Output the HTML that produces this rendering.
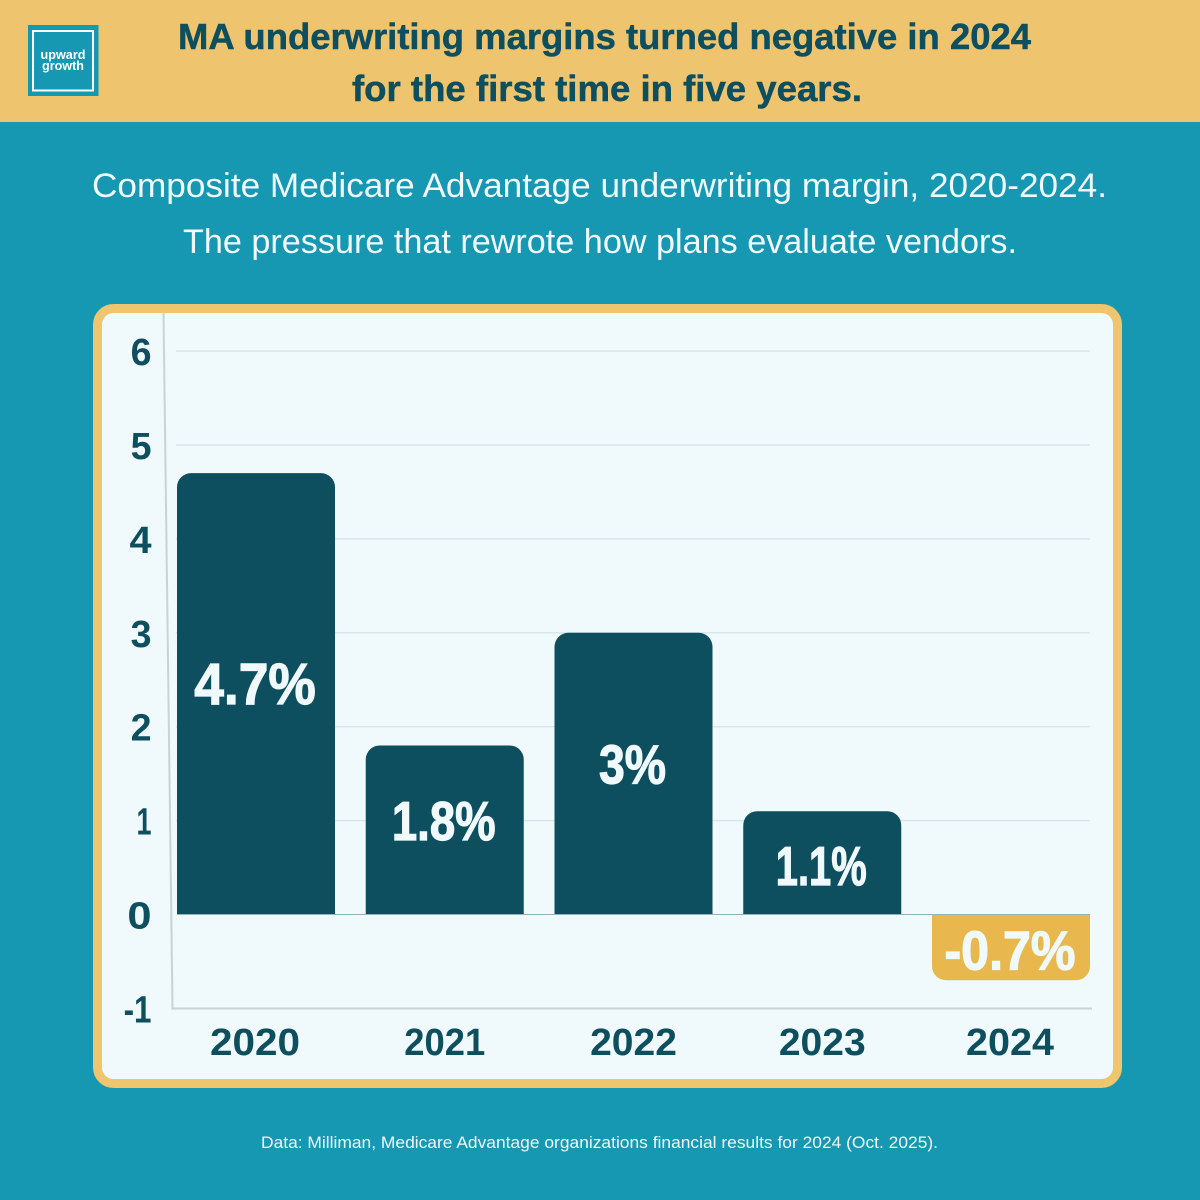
<!DOCTYPE html>
<html lang="en">
<head>
<meta charset="utf-8">
<title>MA underwriting margins</title>
<style>
html,body{margin:0;padding:0;background:#1697b2;width:1200px;height:1200px;overflow:hidden}
svg{display:block;font-family:"Liberation Sans",sans-serif}
</style>
</head>
<body>
<svg id="chart" xmlns="http://www.w3.org/2000/svg" width="1200" height="1200" viewBox="0 0 1200 1200">
  <rect width="1200" height="1200" fill="#1697b2"/>
  <rect width="1200" height="122" fill="#eec56e"/>
  <g>
    <rect x="28" y="25" width="70.5" height="71" fill="#1697b2"/>
    <rect x="33" y="31" width="60" height="59.5" fill="none" stroke="#fff" stroke-width="2"/>
    <text x="63" y="59" text-anchor="middle" font-size="13" font-weight="700" fill="#fff" textLength="45" lengthAdjust="spacingAndGlyphs">upward</text>
    <text x="63" y="70" text-anchor="middle" font-size="13" font-weight="700" fill="#fff" textLength="42" lengthAdjust="spacingAndGlyphs">growth</text>
  </g>
  <text x="604.5" y="49" text-anchor="middle" font-size="36" font-weight="700" fill="#0e4f5f" stroke="#0e4f5f" stroke-width="0.5" textLength="853" lengthAdjust="spacingAndGlyphs">MA underwriting margins turned negative in 2024</text>
  <text x="607" y="101" text-anchor="middle" font-size="36" font-weight="700" fill="#0e4f5f" stroke="#0e4f5f" stroke-width="0.5" textLength="510" lengthAdjust="spacingAndGlyphs">for the first time in five years.</text>
  <text x="599.5" y="197" text-anchor="middle" font-size="34" fill="#f0f9fc" textLength="1015" lengthAdjust="spacingAndGlyphs">Composite Medicare Advantage underwriting margin, 2020-2024.</text>
  <text x="600" y="253" text-anchor="middle" font-size="34" fill="#f0f9fc" textLength="834" lengthAdjust="spacingAndGlyphs">The pressure that rewrote how plans evaluate vendors.</text>
  <rect x="97.5" y="308.5" width="1020" height="775" rx="16" fill="#f0f9fc" stroke="#efc56e" stroke-width="9"/>
  <g id="grid"></g>
  <path d="M163.5 313L172.5 1008.5H1092" fill="none" stroke="#c9d3d6" stroke-width="2"/>
  <g id="yticks"></g>
  <g id="bars"></g>
  <g id="xticks"></g>
  <text x="599.5" y="1148" text-anchor="middle" font-size="17" fill="#f0f9fc" textLength="677" lengthAdjust="spacingAndGlyphs">Data: Milliman, Medicare Advantage organizations financial results for 2024 (Oct. 2025).</text>
</svg>
<script>
const categories = ['2020', '2021', '2022', '2023', '2024'];
const margins = [4.7, 1.8, 3, 1.1, -0.7];
const valueLabels = ['4.7%', '1.8%', '3%', '1.1%', '-0.7%'];
const yTicks = [6, 5, 4, 3, 2, 1, 0, -1];

const NS = 'http://www.w3.org/2000/svg';
const PLOT_LEFT = 177, PLOT_RIGHT = 1090, BAR_W = 158, RADIUS = 14;
const UNIT = 93.9, ZERO_Y = 914.5;
const INK = '#0e4f5f', NEG = '#e8b84e', LIGHT = '#f0f9fc';
const valueAdvance = {'0':.72,'1':.405,'2':.58,'3':.57,'4':.62,'5':.58,'6':.62,'7':.5,'8':.65,'9':.62,'.':.22,'%':.72,'-':.36};
const yearAdvance = {'0':.635,'1':.395,'2':.55,'3':.55,'4':.58,'5':.55,'6':.55,'7':.5,'8':.6,'9':.6,'-':.34};

function yScale(v) { return ZERO_Y - v * UNIT; }
function xScale(i) { return PLOT_LEFT + i * (PLOT_RIGHT - PLOT_LEFT - BAR_W) / (categories.length - 1); }
function textWidth(s, table, unit) {
  let w = 0;
  for (const c of s) w += (table[c] || .6);
  return w * unit;
}
function make(tag, attrs, parent) {
  const el = document.createElementNS(NS, tag);
  for (const k in attrs) el.setAttribute(k, attrs[k]);
  parent.appendChild(el);
  return el;
}
function barPath(x, w, v) {
  const y0 = yScale(0), y1 = yScale(v);
  const dir = v >= 0 ? 1 : 0;
  const s = v >= 0 ? 1 : -1;
  const r = Math.min(RADIUS, Math.abs(y1 - y0));
  return 'M' + x + ' ' + y0 + 'V' + (y1 + s * r) +
    'A' + r + ' ' + r + ' 0 0 ' + dir + ' ' + (x + r) + ' ' + y1 +
    'H' + (x + w - r) +
    'A' + r + ' ' + r + ' 0 0 ' + dir + ' ' + (x + w) + ' ' + (y1 + s * r) +
    'V' + y0 + 'Z';
}

const gridG = document.getElementById('grid');
const yG = document.getElementById('yticks');
const barsG = document.getElementById('bars');
const xG = document.getElementById('xticks');

yTicks.forEach(function (t) {
  if (t > 0) {
    const line = make('line', {x1: 176, x2: PLOT_RIGHT, y1: yScale(t), y2: yScale(t), stroke: '#d6e6ea', 'stroke-width': 1.4}, gridG);
    
    
  }
  const label = make('text', {
    x: 151.5,
    y: yScale(t) + 14,
    'text-anchor': 'end',
    'font-size': 38,
    'font-weight': 700,
    fill: INK,
    textLength: textWidth(String(t), yearAdvance, 38),
    lengthAdjust: 'spacingAndGlyphs'
  }, yG);
  
  
  label.textContent = String(t);
});

margins.forEach(function (v, i) {
  const x = xScale(i);
  const bar = make('path', {d: barPath(x, BAR_W, v), fill: v >= 0 ? INK : NEG}, barsG);
  
  

  const h = Math.abs(yScale(v) - yScale(0));
  const mid = (yScale(v) + yScale(0)) / 2;
  const big = v > 4;
  const label = make('text', {
    x: x + BAR_W / 2 - 1,
    y: mid + (h < 120 ? 22 : 10),
    'text-anchor': 'middle',
    'font-size': big ? 58 : 55,
    'font-weight': 700,
    fill: LIGHT,
    stroke: LIGHT,
    'stroke-width': 1.2,
    textLength: textWidth(valueLabels[i], valueAdvance, big ? 59 : 52),
    lengthAdjust: 'spacingAndGlyphs'
  }, barsG);
  
  
  label.textContent = valueLabels[i];

  const tick = make('text', {
    x: x + BAR_W / 2 - (i === 0 ? 1 : 0) + (i === 4 ? -1 : 0),
    y: 1055,
    'text-anchor': 'middle',
    'font-size': 38,
    'font-weight': 700,
    fill: INK,
    textLength: textWidth(categories[i], yearAdvance, 38),
    lengthAdjust: 'spacingAndGlyphs'
  }, xG);
  
  
  tick.textContent = categories[i];
});

const zeroLine = make('line', {x1: PLOT_LEFT, x2: PLOT_RIGHT, y1: yScale(0), y2: yScale(0), stroke: '#8fb3bf', 'stroke-width': 1}, barsG);


</script>
</body>
</html>
